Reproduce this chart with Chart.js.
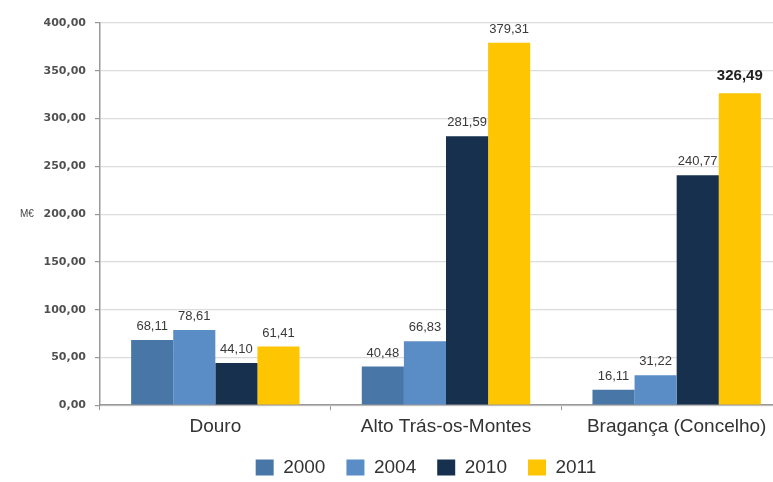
<!DOCTYPE html>
<html>
<head>
<meta charset="utf-8">
<script src="https://cdn.jsdelivr.net/npm/chart.js@4/dist/chart.umd.min.js"></script>
<style>
  html, body { margin: 0; padding: 0; background: #fff; overflow: hidden; }
  #wrap { width: 792px; height: 482px; }
</style>
</head>
<body>
<div id="wrap"><canvas id="chart" width="792" height="482"></canvas></div>
<script>
const categories = ["Douro", "Alto Trás-os-Montes", "Bragança (Concelho)"];
const years = ["2000", "2004", "2010", "2011"];
const values2000 = [68.11, 40.48, 16.11];
const values2004 = [78.61, 66.83, 31.22];
const values2010 = [44.10, 281.59, 240.77];
const values2011 = [61.41, 379.31, 326.49];
const yTicks = [0, 50, 100, 150, 200, 250, 300, 350, 400];

const colors = ["#4876a6", "#5a8dc6", "#16304e", "#fec503"];
// the one label drawn bold in the source
const boldLabel = { dataset: 3, index: 2 };

function fmt(v) {
  return v.toFixed(2).replace(".", ",");
}

const labelPlugin = {
  id: "barLabels",
  afterLayout(chart) {
    // source legend sits a bit right of the canvas centre
    chart.legend.left += 30;
    chart.legend.right += 30;
  },
  afterDatasetsDraw(chart) {
    const ctx = chart.ctx;
    ctx.save();
    ctx.textAlign = "center";
    ctx.textBaseline = "bottom";
    chart.data.datasets.forEach((ds, i) => {
      const meta = chart.getDatasetMeta(i);
      meta.data.forEach((bar, j) => {
        const bold = i === boldLabel.dataset && j === boldLabel.index;
        ctx.font = bold ? "bold 15px 'Liberation Sans'" : "13px 'Liberation Sans'";
        ctx.fillStyle = bold ? "#222" : "#3a3a3a";
        ctx.fillText(fmt(ds.data[j]), bar.x, bar.y - (bold ? 10 : 7));
      });
    });
    // unit label
    ctx.font = "10px 'Liberation Sans'";
    ctx.fillStyle = "#444";
    ctx.textAlign = "left";
    ctx.textBaseline = "middle";
    ctx.fillText("M€", 20, chart.scales.y.getPixelForValue(200));
    ctx.restore();
  },
};

new Chart(document.getElementById("chart"), {
  type: "bar",
  data: {
    labels: categories,
    datasets: [values2000, values2004, values2010, values2011].map((d, i) => ({
      label: years[i],
      data: d,
      backgroundColor: colors[i],
      borderWidth: 0,
      barPercentage: 1.0,
      categoryPercentage: 0.73,
    })),
  },
  options: {
    responsive: false,
    animation: false,
    layout: { padding: { left: 0, right: 0, top: 23, bottom: -5 } },
    plugins: {
      tooltip: { enabled: false },
      legend: {
        position: "bottom",
        labels: {
          boxWidth: 18,
          boxHeight: 16,
          padding: 21,
          color: "#333",
          font: { family: "'Liberation Sans'", size: 19 },
        },
      },
    },
    scales: {
      x: {
        afterFit(scale) { scale.height -= 6; },
        grid: { offset: true, drawOnChartArea: false, tickLength: 5, color: "#999" },
        border: { color: "#999", width: 1.5 },
        ticks: { color: "#333", padding: 5, font: { family: "'Liberation Sans'", size: 19 } },
      },
      y: {
        min: 0,
        max: 400,
        afterFit(scale) { scale.width = 100; },
        afterBuildTicks(scale) { scale.ticks = yTicks.map((v) => ({ value: v })); },
        grid: { color: "#dcdcdc", lineWidth: 1.2, tickLength: 5, tickColor: "#999" },
        border: { color: "#999", width: 1.5 },
        ticks: {
          color: "#505050",
          padding: 9,
          font: { family: "'DejaVu Sans'", size: 11, weight: "bold" },
          callback: (v) => fmt(v),
        },
      },
    },
  },
  plugins: [labelPlugin],
});
</script>
</body>
</html>
